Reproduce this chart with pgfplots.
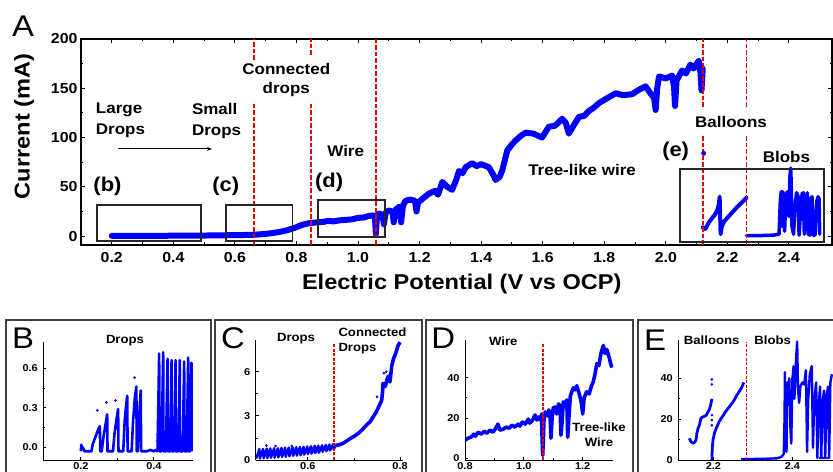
\documentclass[border=0pt]{standalone}
\usepackage{pgfplots}
\pgfplotsset{compat=1.18}
\usepackage{fontspec}
\setmainfont{Liberation Sans}[FakeStretch=1.1]
\usetikzlibrary{arrows.meta}
\definecolor{pblue}{RGB}{0,0,255}
\definecolor{pred}{RGB}{235,0,0}
\newcommand{\fs}[2]{\fontsize{#1}{#2}\selectfont}
\tikzset{
  rdash/.style={pred, dash pattern=on 4.5bp off 2bp, line width=1.8bp},
  rdashs/.style={pred, dash pattern=on 3bp off 1.5bp, line width=1.3bp},
}
\pgfplotsset{
  panel/.style={scale only axis, anchor=south west,
    axis x line*=bottom, axis y line*=left, tick align=inside,
    major tick length=3bp, minor tick length=1.8bp,
    axis line style={line width=0.9bp},
    every tick/.style={black,line width=0.8bp},
    minor x tick num=1, minor y tick num=1,
    /pgf/number format/assume math mode=true,
    ticklabel style={font=\fs{10}{12}\bfseries},
    xticklabel style={inner sep=0.8bp, yshift=-1.5bp},
    yticklabel style={xshift=-2bp},
    height=120bp},
}
\begin{document}
\begin{tikzpicture}
\useasboundingbox (0,0) rectangle (833bp,472bp);

% ---------------- Panel A ----------------
\begin{axis}[at={(81bp,227bp)}, anchor=south west, scale only axis,
  width=751bp, height=206bp,
  xmin=0.1, xmax=2.54, ymin=-9, ymax=200,
  xtick={0.2,0.4,0.6,0.8,1.0,1.2,1.4,1.6,1.8,2.0,2.2,2.4},
  ytick={0,50,100,150,200},
  minor x tick num=1, minor y tick num=1,
  tick align=inside, major tick length=4bp, minor tick length=2.5bp,
  axis line style={line width=1.3bp},
  every tick/.style={black,line width=1bp},
  /pgf/number format/assume math mode=true,
  ticklabel style={font=\fs{14.5}{17}\bfseries},
  xticklabel style={/pgf/number format/fixed,/pgf/number format/fixed zerofill,/pgf/number format/precision=1, yshift=-4bp},
  xlabel={Electric Potential (V vs OCP)},
  ylabel={Current (mA)},
  label style={font=\fs{21.5}{24}\bfseries},
  xlabel style={at={(axis description cs:0.507,-0.189)}, anchor=center},
  ylabel style={at={(axis description cs:-0.0759,0.575)}, anchor=center},
]
\addplot[pblue, line width=6bp, line join=round, line cap=round] coordinates {
(0.2,0.3)(0.3,0.3)(0.4,0.4)(0.45,0.5)(0.5,0.6)(0.55,0.8)(0.6,1)(0.64,1.2)(0.662,1.4)(0.68,1.8)(0.7,2.3)(0.72,3)(0.74,4)(0.76,5.2)(0.78,7)(0.8,9)(0.81,10.5)(0.825,12)(0.84,13)(0.85,13.5)(0.87,14)(0.89,14.5)(0.9,15.5)(0.92,15)(0.94,16)(0.96,16.5)(0.98,17)(1.0,18.5)(1.02,19)(1.035,20.5)(1.05,21)(1.055,20)(1.058,2)(1.062,22)(1.07,23)(1.08,21)(1.084,12)(1.09,24)(1.1,26)(1.112,25)(1.116,14)(1.122,27)(1.135,30)(1.14,14)(1.146,31)(1.155,36)(1.17,37)(1.185,36)(1.19,25)(1.195,34)(1.21,38)(1.23,43)(1.25,46)(1.26,42)(1.274,55)(1.29,50)(1.306,47)(1.32,58)(1.328,66)(1.34,64)(1.35,70)(1.371,74)(1.385,71)(1.4,73)(1.425,70)(1.44,62)(1.447,57)(1.46,60)(1.469,67)(1.485,87)(1.5,93)(1.512,97)(1.53,102)(1.545,105)(1.57,104)(1.598,100)(1.61,106)(1.62,111)(1.64,112)(1.663,119)(1.675,115)(1.685,104)(1.7,112)(1.718,121)(1.735,122)(1.75,127)(1.765,130)(1.783,135)(1.81,140)(1.837,145)(1.86,143)(1.891,144)(1.91,148)(1.934,152)(1.95,145)(1.962,140)(1.967,128)(1.972,150)(1.978,162)(2.0,160)(2.021,163)(2.027,150)(2.03,132)(2.035,158)(2.053,168)(2.065,165)(2.08,174)(2.09,170)(2.107,178)(2.113,165)(2.116,148)(2.12,170)
};
\addplot[pblue, line width=4bp, line join=round, line cap=round] coordinates {
(2.12,9)(2.125,7)(2.13,8)(2.14,14)(2.15,18)(2.16,22)(2.168,27)(2.172,32)(2.175,40)(2.176,28)(2.178,2)(2.182,10)(2.19,15)(2.21,22)(2.23,29)(2.25,35)(2.262,39)
};
\addplot[pblue, only marks, mark=*, mark size=2.2bp] coordinates {(2.123,84)};
\addplot[pblue, line width=3.5bp, line join=round, line cap=round] coordinates {
(2.262,0.5)(2.3,0.5)(2.35,1)(2.368,2)(2.372,35)(2.375,45)(2.378,10)(2.38,45)(2.383,42)(2.386,5)(2.39,40)(2.395,45)(2.4,20)(2.403,60)(2.406,69)(2.408,45)(2.41,10)(2.415,2)(2.42,30)(2.425,44)(2.43,40)(2.433,1)(2.438,25)(2.443,43)(2.447,44)(2.45,2)(2.456,30)(2.46,44)(2.463,2)(2.468,1)(2.47,38)(2.475,40)(2.478,1)(2.485,1)(2.49,35)(2.495,40)(2.498,38)(2.5,2)
};
% red dashed separators
\draw[rdash] (axis cs:0.662,-9) -- (axis cs:0.662,135);
\draw[rdash] (axis cs:0.662,179) -- (axis cs:0.662,200);
\draw[rdash] (axis cs:0.846,-9) -- (axis cs:0.846,135);
\draw[rdash] (axis cs:0.846,184) -- (axis cs:0.846,200);
\draw[rdash] (axis cs:1.058,-9) -- (axis cs:1.058,200);
\draw[rdash] (axis cs:2.121,-9) -- (axis cs:2.121,102.7);
\draw[rdash] (axis cs:2.121,131.5) -- (axis cs:2.121,200);
\draw[rdash] (axis cs:2.262,-9) -- (axis cs:2.262,102.7);
\draw[rdash] (axis cs:2.262,131.5) -- (axis cs:2.262,200);
% boxes
\draw[black!85, line width=1.7bp] (axis cs:0.153,-4.8) rectangle (axis cs:0.491,31.5);
\draw[black!85, line width=1.7bp] (axis cs:0.570,-4.8) rectangle (axis cs:0.787,31.5);
\draw[black!85, line width=1.7bp] (axis cs:0.871,-0.7) rectangle (axis cs:1.088,36.6);
\draw[black!85, line width=1.7bp] (axis cs:2.046,-6.1) rectangle (axis cs:2.513,67.9);
% annotations
\node[anchor=west, align=left, inner sep=0, font=\fs{15.5}{20.7}\bfseries] at (axis cs:0.148,117.5) {Large\\Drops};
\node[anchor=west, align=left, inner sep=0, font=\fs{15.5}{20.7}\bfseries] at (axis cs:0.46,116.5) {Small\\Drops};
\draw[-{Stealth[length=5bp,width=4bp]}, line width=0.9bp] (axis cs:0.22,88.5) -- (axis cs:0.525,88.5);
\node[align=center, inner sep=0, font=\fs{15.5}{19.3}\bfseries] at (axis cs:0.767,158.3) {Connected\\drops};
\node[inner sep=0, font=\fs{15.5}{18}\bfseries] at (axis cs:0.96,86.8) {Wire};
\node[inner sep=0, font=\fs{15.5}{18}\bfseries] at (axis cs:1.728,67) {Tree-like wire};
\node[inner sep=0, font=\fs{15.5}{18}\bfseries] at (axis cs:2.212,116) {Balloons};
\node[inner sep=0, font=\fs{15.5}{18}\bfseries] at (axis cs:2.392,80.7) {Blobs};
\node[inner sep=0, font=\fs{20}{22}\bfseries] at (axis cs:0.186,50.2) {(b)};
\node[inner sep=0, font=\fs{20}{22}\bfseries] at (axis cs:0.570,50.2) {(c)};
\node[inner sep=0, font=\fs{20}{22}\bfseries] at (axis cs:0.906,55) {(d)};
\node[inner sep=0, font=\fs{20}{22}\bfseries] at (axis cs:2.032,85.8) {(e)};
\end{axis}
\node[inner sep=0, font=\fs{30}{32}] at (23bp,446bp) {A};

% ---------------- frames ----------------
\draw[line width=2bp, black!75] (5.5bp,-5bp) rectangle (211bp,151.5bp);
\draw[line width=2bp, black!75] (215bp,-5bp) rectangle (421.5bp,151.5bp);
\draw[line width=2bp, black!75] (426bp,-5bp) rectangle (633bp,151.5bp);
\draw[line width=2bp, black!75] (637.5bp,-5bp) rectangle (840bp,151.5bp);

% ---------------- Panel B ----------------
\begin{axis}[panel, at={(43.3bp,12bp)}, width=150bp, height=118.3bp,
  xmin=0.097, xmax=0.508, ymin=-0.096, ymax=0.8,
  xtick={0.2,0.4}, ytick={0,0.3,0.6},
  xticklabel style={/pgf/number format/fixed,/pgf/number format/fixed zerofill,/pgf/number format/precision=1},
  yticklabel style={/pgf/number format/fixed,/pgf/number format/fixed zerofill,/pgf/number format/precision=1},
]
\addplot[pblue, line width=2.6bp, line join=round] coordinates {
(0.2,-0.03)(0.201,0.02)(0.203,-0.01)(0.205,0.0)(0.21,-0.03)(0.229,-0.03)(0.232,0.02)(0.24,0.08)(0.248,0.14)(0.252,0.16)(0.253,-0.03)(0.257,-0.03)(0.262,0.08)(0.268,0.18)(0.272,0.25)(0.273,-0.03)(0.288,-0.03)(0.292,0.1)(0.297,0.2)(0.302,0.29)(0.303,-0.03)(0.316,-0.03)(0.32,0.2)(0.324,0.32)(0.327,0.39)(0.328,-0.03)(0.339,-0.03)(0.343,0.2)(0.348,0.38)(0.352,0.46)(0.353,-0.03)(0.356,-0.03)(0.36,0.25)(0.364,0.43)(0.365,-0.03)(0.38,-0.03)(0.39,-0.02)(0.40,-0.03)(0.405,-0.02)(0.41,-0.03)
(0.4145,0.71)(0.415,-0.03)(0.421,-0.03)(0.4255,0.72)(0.426,-0.03)(0.433,-0.03)(0.4375,0.67)(0.438,-0.03)(0.444,-0.03)(0.4485,0.66)(0.449,-0.03)(0.455,-0.03)(0.4595,0.66)(0.46,-0.03)(0.467,-0.03)(0.471,0.66)(0.4715,-0.03)(0.479,-0.03)(0.483,0.65)(0.4835,-0.03)(0.49,-0.03)(0.494,0.68)(0.4945,-0.03)(0.499,-0.03)(0.503,0.64)(0.5035,-0.03)
};
\addplot[pblue, only marks, mark=*, mark size=1.1bp] coordinates {
(0.245,0.28)(0.27,0.34)(0.295,0.355)(0.347,0.528)(0.41,0.1)(0.41,0.05)(0.412,0.0)
};
\end{axis}
\node[inner sep=0, font=\fs{30}{32}] at (23bp,134bp) {B};
\node[inner sep=0, font=\fs{12}{14}\bfseries] at (125bp,131.3bp) {Drops};

% ---------------- Panel C ----------------
\begin{axis}[panel, at={(255.7bp,12bp)}, width=147.6bp,
  xmin=0.487, xmax=0.807, ymin=0, ymax=8.15,
  xtick={0.6,0.8}, ytick={0,3,6},
  xticklabel style={/pgf/number format/fixed,/pgf/number format/fixed zerofill,/pgf/number format/precision=1},
]
\addplot[pblue, line width=2.4bp, line join=round] coordinates {
(0.488,0.1)(0.495,0.75)(0.496,0.1)(0.503,0.75)(0.504,0.12)(0.511,0.78)(0.512,0.12)(0.519,0.78)(0.520,0.15)(0.527,0.8)(0.528,0.15)(0.535,0.8)(0.536,0.18)(0.543,0.82)(0.544,0.2)(0.551,0.84)(0.552,0.22)(0.559,0.85)(0.560,0.25)(0.567,0.86)(0.568,0.28)(0.575,0.87)(0.576,0.3)(0.583,0.88)(0.584,0.33)(0.591,0.9)(0.592,0.36)(0.599,0.92)(0.600,0.4)(0.607,0.94)(0.608,0.43)(0.615,0.96)(0.616,0.47)(0.623,0.98)(0.624,0.5)(0.631,1.0)(0.632,0.55)(0.639,1.02)(0.640,0.6)(0.647,1.05)(0.648,0.65)(0.655,1.08)(0.656,0.72)(0.663,1.1)
};
\addplot[pblue, line width=3.6bp, line join=round] coordinates {
(0.663,1.0)(0.67,1.05)(0.68,1.2)(0.692,1.46)(0.70,1.6)(0.713,1.9)(0.725,2.3)(0.735,2.6)(0.745,3.1)(0.749,3.3)(0.755,3.7)(0.76,4.05)(0.762,4.6)(0.763,5.2)(0.768,5.0)(0.772,5.5)(0.775,5.7)(0.778,5.3)(0.782,6.4)(0.786,6.9)(0.79,7.2)(0.796,7.8)(0.8,8.0)
};
\addplot[pblue, only marks, mark=*, mark size=1.1bp] coordinates {
(0.51,0.98)(0.53,0.95)(0.565,0.95)(0.75,4.3)(0.765,5.9)(0.77,6.0)
};
\draw[rdashs] (axis cs:0.657,0) -- (axis cs:0.657,7.9);
\end{axis}
\node[inner sep=0, font=\fs{30}{32}] at (233bp,134bp) {C};
\node[inner sep=0, font=\fs{12}{14}\bfseries] at (296bp,133bp) {Drops};
\node[anchor=west, align=left, inner sep=0, font=\fs{12}{15.5}\bfseries] at (338.3bp,131bp) {Connected\\Drops};

% ---------------- Panel D ----------------
\begin{axis}[panel, at={(465bp,12bp)}, width=148.3bp,
  xmin=0.8, xmax=1.304, ymin=-0.8, ymax=58.7,
  xtick={0.8,1.0,1.2}, ytick={0,20,40},
  xticklabel style={/pgf/number format/fixed,/pgf/number format/fixed zerofill,/pgf/number format/precision=1},
]
\addplot[pblue, line width=3.6bp, line join=round] coordinates {
(0.8,9)(0.81,10)(0.82,10.5)(0.83,12)(0.835,11)(0.845,13)(0.855,12)(0.865,13.5)(0.874,12.5)(0.885,14)(0.895,13)(0.905,15)(0.912,17)(0.918,14)(0.93,14.5)(0.94,15.5)(0.95,15)(0.96,16.5)(0.97,15.5)(0.98,17)(0.987,16)(0.995,18)(1.005,17)(1.015,19.5)(1.02,17.5)(1.03,19)(1.038,21.5)(1.045,19)(1.05,20.5)(1.057,19)(1.06,22)(1.062,10)(1.064,1.5)(1.066,8)(1.069,22)(1.073,23)(1.08,21)(1.085,24)(1.089,22)(1.092,10)(1.096,20)(1.1,25)(1.106,25.5)(1.112,22)(1.118,27)(1.123,26)(1.126,11.5)(1.13,18)(1.134,28)(1.14,27)(1.146,29)(1.149,10.5)(1.153,20)(1.158,31)(1.163,33)(1.168,35)(1.174,34)(1.18,36)(1.188,32)(1.195,28)(1.2,22)(1.205,30)(1.213,33)(1.222,32)(1.23,36)(1.236,38)(1.242,42)(1.248,47)(1.255,46)(1.262,52)(1.27,56)(1.276,52)(1.282,54)(1.29,50)(1.295,47)(1.299,45)
};
\draw[rdashs] (axis cs:1.065,-0.8) -- (axis cs:1.065,57);
\end{axis}
\node[inner sep=0, font=\fs{30}{32}] at (443.3bp,133.7bp) {D};
\node[inner sep=0, font=\fs{12}{14}\bfseries] at (503.3bp,130.3bp) {Wire};
\node[align=center, inner sep=0, font=\fs{12}{16}\bfseries] at (599bp,37.3bp) {Tree-like\\Wire};

% ---------------- Panel E ----------------
\begin{axis}[panel, at={(678.3bp,12bp)}, width=155.6bp,
  xmin=2.111, xmax=2.505, ymin=0, ymax=58.8,
  xtick={2.2,2.4}, ytick={0,20,40},
  xticklabel style={/pgf/number format/fixed,/pgf/number format/fixed zerofill,/pgf/number format/precision=1},
]
\addplot[pblue, line width=2.8bp, line join=round] coordinates {
(2.139,10.6)(2.143,9)(2.148,8.2)(2.153,8.8)(2.156,10)(2.158,13)(2.161,15.5)(2.165,17.5)(2.168,20.4)(2.172,21)(2.178,21.5)(2.182,22)(2.186,23.5)(2.19,25)(2.193,27)(2.196,30)
};
\addplot[pblue, line width=2.8bp, line join=round] coordinates {
(2.196,0)(2.197,6)(2.199,10)(2.203,13.5)(2.208,16)(2.215,19)(2.222,21)(2.23,23.5)(2.24,26)(2.25,28.5)(2.26,32)(2.27,35)(2.277,38)
};
\addplot[pblue, line width=2.4bp, line join=round] coordinates {
(2.27,0.5)(2.3,0.5)(2.33,0.6)(2.36,0.8)(2.372,1.5)(2.378,3)(2.38,20)(2.381,43)(2.383,10)(2.385,4)(2.387,38)(2.389,30)(2.392,40)(2.395,15)(2.397,8)(2.4,40)(2.403,46)(2.405,30)(2.408,45)(2.41,52)(2.412,58)(2.414,35)(2.417,28)(2.42,36)(2.425,38)(2.43,37)(2.434,44)(2.436,20)(2.437,4)(2.44,30)(2.444,42)(2.449,46)(2.451,20)(2.452,6)(2.455,28)(2.46,38)(2.462,15)(2.463,1)(2.466,25)(2.47,36)(2.472,10)(2.473,1)(2.476,28)(2.48,34)(2.483,1)(2.486,30)(2.49,36)(2.493,1)(2.496,38)(2.5,42)
};
\addplot[pblue, only marks, mark=*, mark size=1.1bp] coordinates {
(2.196,39.5)(2.196,37)(2.196,22)(2.196,19.5)(2.196,17)(2.47,1)(2.475,1)(2.48,1)(2.485,1)(2.49,1)
};
\draw[rdashs] (axis cs:2.283,0) -- (axis cs:2.283,58);
\end{axis}
\node[inner sep=0, font=\fs{30}{32}] at (655bp,132bp) {E};
\node[inner sep=0, font=\fs{12}{14}\bfseries] at (711.7bp,131.3bp) {Balloons};
\node[inner sep=0, font=\fs{12}{14}\bfseries] at (772.7bp,131.3bp) {Blobs};
\end{tikzpicture}
\end{document}
